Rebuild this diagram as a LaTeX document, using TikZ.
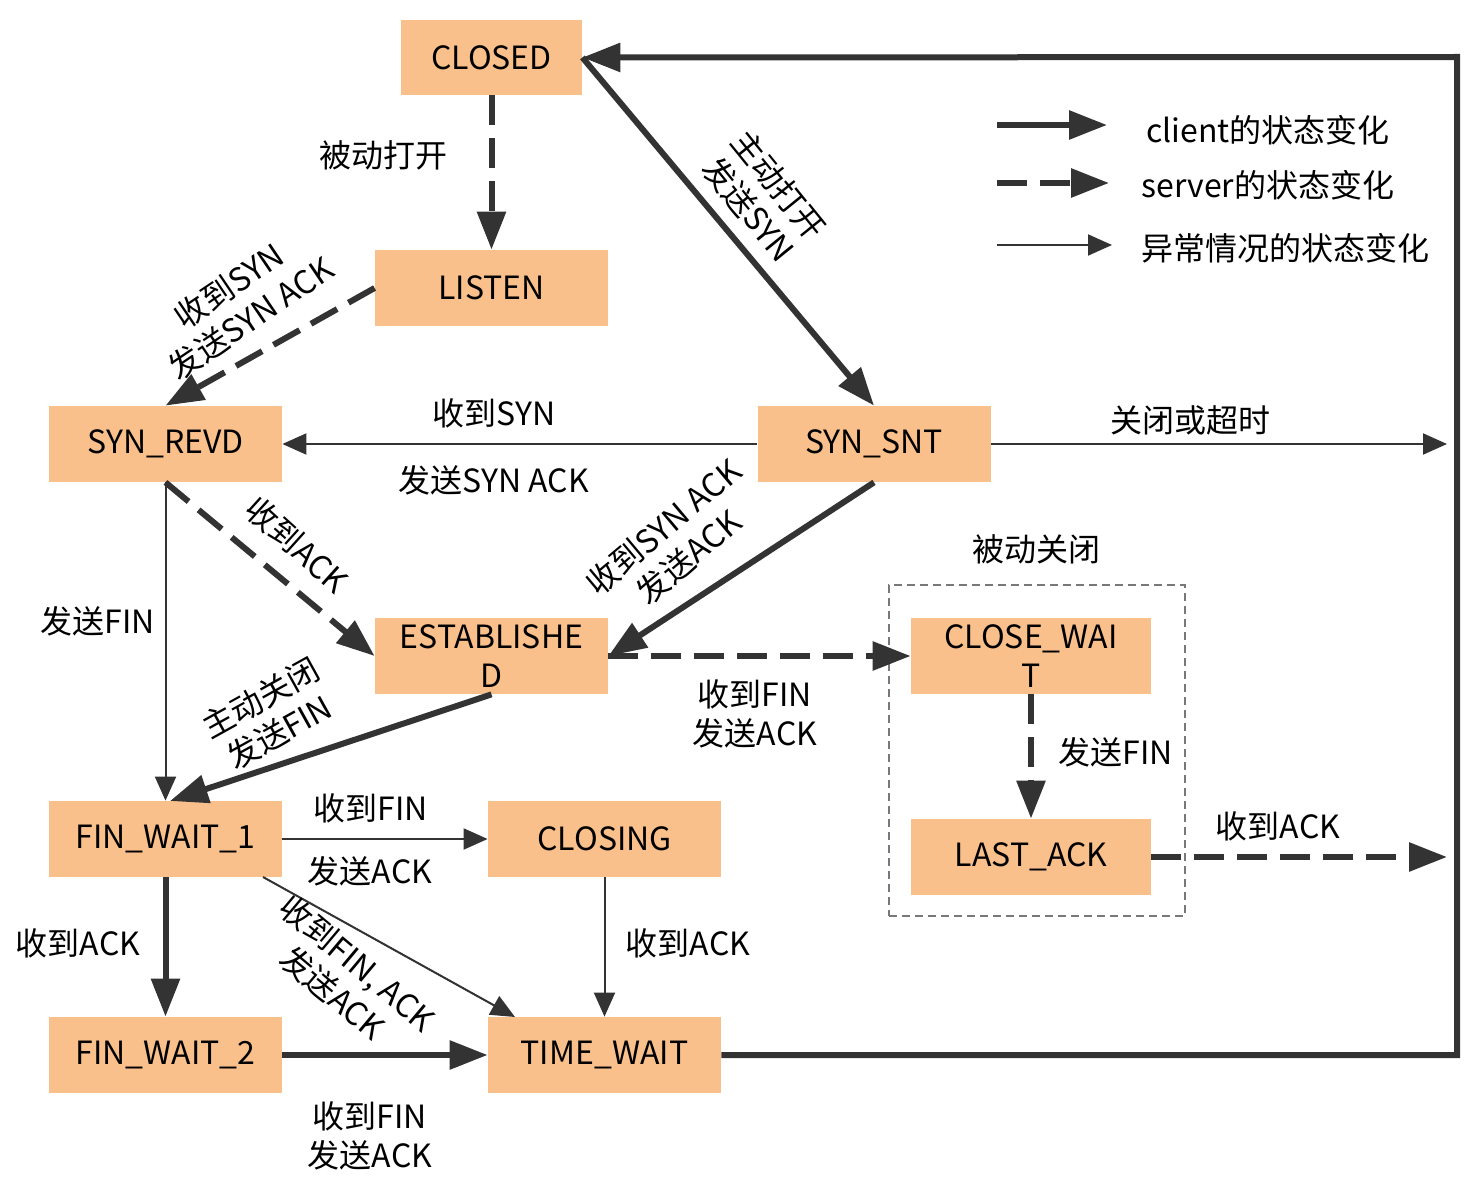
\documentclass[tikz,border=0pt]{standalone}
\usepackage{fontspec}
\setmainfont{Noto Sans CJK SC}
\usetikzlibrary{arrows.meta}
\definecolor{boxfill}{RGB}{250,192,140}
\definecolor{ink}{RGB}{51,51,51}
\definecolor{boxline}{RGB}{120,120,120}
\tikzset{
  state/.style={fill=boxfill, draw=none, minimum width=116.5pt, minimum height=38pt,
    inner sep=0pt, font=\fontsize{16}{19.5}\selectfont, align=center, text=black},
  lbl/.style={font=\fontsize{16}{19.5}\selectfont, align=center, text=black, inner sep=0pt},
  cli/.style={draw=ink, line width=3pt, -{Triangle[length=19pt,width=14pt]}},
  srv/.style={draw=ink, line width=3pt, dash pattern=on 15pt off 6.5pt, -{Triangle[length=19pt,width=14pt]}},
  abn/.style={draw=ink, line width=1pt, -{Triangle[length=12pt,width=10.5pt]}},
}
\begin{document}
\begin{tikzpicture}[x=0.5pt,y=-0.5pt]
\useasboundingbox (0,0) rectangle (1480,1188);
\fill[white] (0,0) rectangle (1480,1188);

% passive close group box
\node[draw=boxline, line width=0.8pt, dash pattern=on 4pt off 2.5pt, minimum width=148pt, minimum height=165.5pt, inner sep=0pt] (pcbox) at (1037,750.5) {};

% states
\node[state, minimum width=90.5pt, minimum height=37.5pt] (closed) at (491.5,57.5) {CLOSED};
\node[state] (listen) at (491.5,288) {LISTEN};
\node[state] (synrevd) at (165.5,444) {SYN\_REVD};
\node[state] (synsnt) at (874,444) {SYN\_SNT};
\node[state] (estab) at (491.5,656) {ESTABLISHE\\D};
\node[state, minimum width=120pt] (closewait) at (1031,656) {CLOSE\_WAI\\T};
\node[state, minimum width=120pt] (lastack) at (1031,857) {LAST\_ACK};
\node[state] (finwait1) at (165.5,839) {FIN\_WAIT\_1};
\node[state] (closing) at (604.5,839) {CLOSING};
\node[state] (finwait2) at (165.5,1055) {FIN\_WAIT\_2};
\node[state] (timewait) at (604.5,1055) {TIME\_WAIT};

% helper coordinates
\coordinate (loopR) at (1457,57);
\coordinate (synsntOut) at (1447,444);
\coordinate (lastackOut) at (1447,857);
\coordinate (fw1a) at (263,877);
\coordinate (twa) at (515,1017);
\coordinate (fw1n) at (170,801);

% connectors
\draw[srv] (closed.south) -- (listen.north);
\draw[cli] (closed.east) -- (synsnt.north);
\draw[srv] (listen.west) -- (synrevd.north);
\draw[abn] (synsnt.west) -- (synrevd.east);
\draw[abn] (synsnt.east) -- (synsntOut);
\draw[cli] (synsnt.south) -- (estab.east);
\draw[srv] (synrevd.south) -- (estab.west);
\draw[abn] (synrevd.south) -- (finwait1.north);
\draw[cli] (estab.south) -- (fw1n);
\draw[srv] (estab.east) -- (closewait.west);
\draw[srv] (closewait.south) -- (lastack.north);
\draw[srv] (lastack.east) -- (lastackOut);
\draw[abn] (finwait1.east) -- (closing.west);
\draw[cli] (finwait1.south) -- (finwait2.north);
\draw[abn] (fw1a) -- (twa);
\draw[abn] (closing.south) -- (timewait.north);
\draw[cli] (finwait2.east) -- (timewait.west);
\draw[cli, line join=miter] (timewait.east) -| (loopR) -- (closed.east);

% labels
\node[lbl] (t1) at (383,155) {被动打开};
\node[lbl, rotate=-51] (t2) at (764,197) {主动打开\\发送SYN};
\node[lbl, rotate=34] (t3) at (240,302) {收到SYN\\发送SYN ACK};
\node[lbl] (t4) at (494,413) {收到SYN};
\node[lbl] (t5) at (494,480) {发送SYN ACK};
\node[lbl] (t6) at (1190,420) {关闭或超时};
\node[lbl, rotate=40] (t7) at (676,542) {收到SYN ACK\\发送ACK};
\node[lbl, rotate=-42] (t8) at (297,545) {收到ACK};
\node[lbl] (t9) at (98,621) {发送FIN};
\node[lbl, rotate=29] (t10) at (270,715) {主动关闭\\发送FIN};
\node[lbl] (t11) at (1036,549) {被动关闭};
\node[lbl] (t12) at (755,714) {收到FIN\\发送ACK};
\node[lbl] (t13) at (1116,752) {发送FIN};
\node[lbl] (t14) at (1278,826) {收到ACK};
\node[lbl] (t15) at (371,808) {收到FIN};
\node[lbl] (t16) at (370,871) {发送ACK};
\node[lbl] (t17) at (78,943) {收到ACK};
\node[lbl, rotate=-40] (t18) at (345,978) {收到FIN, ACK\\发送ACK};
\node[lbl] (t19) at (688,943) {收到ACK};
\node[lbl] (t20) at (370,1136) {收到FIN\\发送ACK};

% legend
\coordinate (lg1a) at (997,125); \coordinate (lg1b) at (1107,125);
\coordinate (lg2a) at (997,183); \coordinate (lg2b) at (1109,183);
\coordinate (lg3a) at (997,245); \coordinate (lg3b) at (1112,245);
\draw[cli] (lg1a) -- (lg1b);
\draw[srv] (lg2a) -- (lg2b);
\draw[abn] (lg3a) -- (lg3b);
\node[lbl, anchor=west] (lt1) at (1146,130) {client的状态变化};
\node[lbl, anchor=west] (lt2) at (1141,185) {server的状态变化};
\node[lbl, anchor=west] (lt3) at (1141,248) {异常情况的状态变化};
\end{tikzpicture}
\end{document}
